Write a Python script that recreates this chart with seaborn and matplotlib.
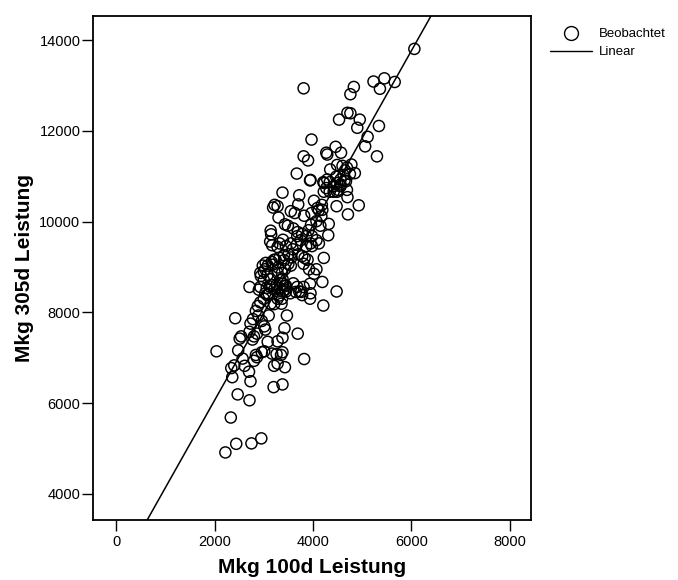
import matplotlib
matplotlib.use("Agg")
import matplotlib.pyplot as plt
from matplotlib.lines import Line2D
import pandas as pd
import seaborn as sns

# Milk yield per cow: first 100 days vs. full 305-day lactation (kg)
milk_100d = [
    6060, 5230, 5450, 5660, 5360, 3810, 4830, 4760, 4700, 4760,
    4530, 4950, 4900, 5340, 5110, 3970, 5060, 5300, 4460, 4270,
    4570, 4290, 3810, 3900, 4780, 4490, 4350, 4650, 4850, 4750,
    3670, 4620, 4560, 4290, 4210, 3940, 3950, 4670, 4490, 4420,
    4270, 4690, 4340, 4220, 3380, 3720, 4700, 4490, 4560, 4470,
    4930, 4710, 4480, 4020, 3700, 3280, 3190, 3220, 4180, 4090,
    3970, 3550, 3630, 3300, 3820, 3430, 3490, 3600, 3690, 3780,
    3980, 4150, 4320, 4310, 4070, 3950, 4120, 3980, 3860, 3670,
    3550, 3390, 3320, 3140, 3150, 3130, 3170, 3280, 3450, 3320,
    3410, 3240, 3500, 3550, 3810, 3890, 3920, 4070, 4020, 4220,
    3290, 3370, 3380, 3430, 2980, 3030, 2940, 3080, 3140, 3120,
    3170, 3260, 3320, 3390, 3450, 3600, 3680, 3760, 3810, 3940,
    3950, 4190, 4480, 4210, 3940, 3360, 3210, 3140, 3030, 3100,
    2930, 2900, 2710, 3000, 3060, 2930, 2880, 2840, 3000, 3070,
    3320, 3370, 3470, 3100, 2780, 2420, 2890, 2960, 2730, 3010,
    3030, 2710, 2800, 2860, 2770, 2540, 2510, 3690, 3420, 3380,
    3280, 3080, 3010, 2960, 3170, 3260, 3380, 3350, 2040, 2480,
    2840, 2860, 3820, 2570, 2800, 3280, 3210, 3430, 2400, 2340,
    2610, 2700, 2360, 2730, 3380, 3200, 2470, 2710, 2330, 2950,
    2750, 2440, 2220, 3040, 3180, 3680, 3750, 3860, 3910, 3960,
    4070, 4120, 4190, 4170, 4230, 4340, 4600, 4690, 4420, 4510,
    4560, 4640, 3410, 3500, 3560, 3590, 3700, 3780, 3830, 2930,
    3000, 3080, 3160, 3210, 3280, 3330, 3390, 3430, 3280, 3450,
    3540, 3650, 3720, 3780, 3280, 3430, 3210,
]
milk_305d = [
    13810, 13090, 13160, 13080, 12930, 12940, 12970, 12810, 12400, 12390,
    12250, 12250, 12070, 12110, 11870, 11810, 11660, 11440, 11650, 11520,
    11520, 11480, 11440, 11350, 11260, 11250, 11150, 11130, 11070, 11050,
    11060, 11030, 10930, 10930, 10870, 10910, 10920, 10890, 10850, 10780,
    10740, 10700, 10660, 10660, 10640, 10580, 10540, 10660, 10780, 10990,
    10360, 10160, 10340, 10460, 10380, 10340, 10310, 10370, 10370, 10300,
    10190, 10230, 10190, 10090, 10130, 9940, 9910, 9850, 9770, 9730,
    9680, 9910, 9950, 9700, 9590, 9520, 9520, 9460, 9460, 9490,
    9520, 9600, 9520, 9800, 9720, 9560, 9480, 9440, 9460, 9200,
    9150, 9160, 9070, 9030, 9070, 9160, 8950, 8950, 8850, 9200,
    8990, 8870, 8740, 8950, 9030, 8950, 8800, 8830, 8730, 8570,
    8600, 8600, 8540, 8460, 8590, 8640, 8560, 8450, 8560, 8630,
    8420, 8670, 8460, 8150, 8300, 8190, 8180, 8190, 8420, 8410,
    8560, 8500, 8560, 8710, 8540, 8220, 8140, 8030, 8300, 8380,
    8370, 8300, 7930, 7930, 7850, 7870, 7930, 7810, 7750, 7690,
    7620, 7570, 7470, 7530, 7400, 7470, 7420, 7530, 7650, 7440,
    7360, 7350, 7140, 7120, 7090, 7080, 7120, 7060, 7140, 7160,
    7060, 7010, 6970, 6980, 6930, 6870, 6820, 6790, 6830, 6770,
    6820, 6690, 6570, 6480, 6410, 6350, 6190, 6060, 5680, 5220,
    5110, 5100, 4910, 9090, 9050, 9680, 9590, 9680, 9810, 9930,
    10010, 10250, 10260, 10120, 10850, 10870, 11230, 11190, 10660, 10700,
    10820, 10910, 9260, 9280, 9210, 9390, 9280, 9240, 9200, 8870,
    8900, 9030, 9110, 9160, 8870, 8710, 8630, 8500, 8460, 8460,
    8420, 8450, 8460, 8380, 8300, 8580, 8500,
]

x_label = "Mkg 100d Leistung"
y_label = "Mkg 305d Leistung"
x_ticks = [0, 2000, 4000, 6000, 8000]
y_ticks = [4000, 6000, 8000, 10000, 12000, 14000]
legend_labels = ["Beobachtet", "Linear"]

sns.set_style("ticks")
plt.rcParams["font.family"] = ["Liberation Sans", "DejaVu Sans"]

df = pd.DataFrame({x_label: milk_100d, y_label: milk_305d})

W, H = 678, 580
fig = plt.figure(figsize=(W / 100, H / 100), dpi=100)
ax = fig.add_axes([93 / W, 1 - 520 / H, (531 - 93) / W, (520 - 16) / H])
ax.set_xlim(-470, 8430)
ax.set_ylim(3420, 14535)

# Observed points plus the least-squares line across the full x range
sns.regplot(
    data=df, x=x_label, y=y_label, ax=ax, ci=None, truncate=False,
    color="black", marker="o",
    scatter_kws=dict(s=64, facecolors="none", edgecolors="black",
                     linewidths=1.05, alpha=1),
    line_kws=dict(color="black", lw=1.1),
)
ax.set_xlim(-470, 8430)
ax.set_ylim(3420, 14535)

ax.set_xticks(x_ticks)
ax.set_yticks(y_ticks)
ax.tick_params(direction="out", length=8, width=1, labelsize=10.5,
               colors="black", bottom=True, left=True)
ax.tick_params(axis="x", pad=3)
ax.tick_params(axis="y", pad=1)
for sp in ax.spines.values():
    sp.set_visible(True)
    sp.set_linewidth(1.3)
    sp.set_color("black")

ax.set_xlabel(x_label, fontsize=15, fontweight="bold", labelpad=6, color="black")
ax.set_ylabel(y_label, fontsize=15, fontweight="bold", labelpad=4, color="black")

handles = [
    Line2D([], [], marker="o", ls="none", mfc="none", mec="black", ms=10, mew=1),
    Line2D([], [], color="black", lw=1),
]
fig.legend(handles, legend_labels, loc="upper left",
           bbox_to_anchor=(550 / W, 1 - 28 / H), frameon=False, fontsize=9.5,
           labelcolor="black", handlelength=3.2, handletextpad=0.5,
           labelspacing=0.45, borderpad=0, borderaxespad=0)

fig.savefig("out.png", dpi=100)
